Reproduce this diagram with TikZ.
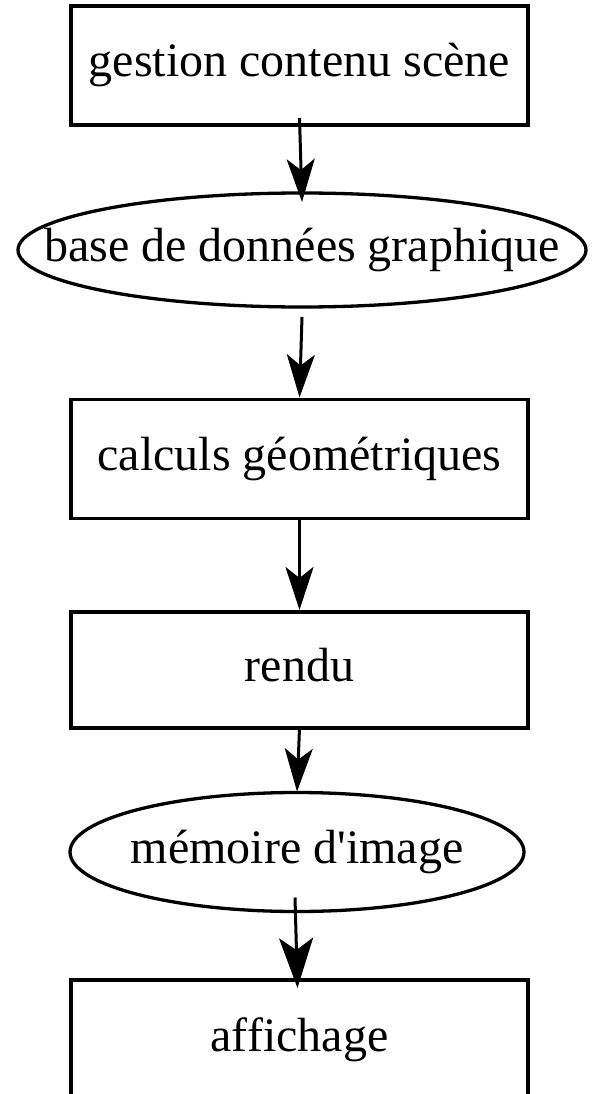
\documentclass[tikz,border=0pt]{standalone}
\usepackage{fontspec}
\setmainfont{Liberation Serif}[Ligatures=TeXOff]
\usetikzlibrary{shapes.geometric,arrows.meta}
\begin{document}
\begin{tikzpicture}[x=1pt,y=-1pt,
  txt/.style={font=\fontsize{48}{48}\selectfont, text height=33pt, text depth=10pt, inner sep=0pt},
  boxnode/.style={draw, line width=3.3pt, minimum width=457pt, minimum height=119pt,
    inner sep=0pt, outer sep=0pt, txt},
  ellnode/.style={draw, ellipse, line width=3.3pt, inner sep=0pt, outer sep=0pt},
  flow/.style={line width=3pt, -{Stealth[length=43pt,width=28pt,inset=11pt]}},
  bigflow/.style={line width=3pt, -{Stealth[length=50pt,width=34pt,inset=12pt]}}]
\useasboundingbox (0,0) rectangle (592,1094);
\node[boxnode] (b1) at (299.5,65.5) {gestion contenu scène};
\node[ellnode, minimum width=568pt, minimum height=114pt] (e1) at (302,250) {};
\node[txt] (t1) at (e1.center) {base de données graphique};
\node[boxnode] (b2) at (299.5,459) {calculs géométriques};
\node[boxnode, minimum height=116pt] (b3) at (299.5,670) {rendu};
\node[ellnode, minimum width=454pt, minimum height=119pt] (e2) at (297,852) {};
\node[txt] (t2) at (e2.center) {mémoire d'image};
\node[boxnode] (b4) at (299.5,1039.5) {affichage};
\draw[flow] ([yshift=7pt]b1.south) -- ([yshift=-9pt]e1.north);
\draw[flow] ([yshift=-10pt]e1.south) -- ([yshift=2pt]b2.north);
\draw[flow] (b2.south) -- ([yshift=2pt]b3.north);
\draw[flow] (b3.south) -- ([yshift=1pt]e2.north);
\draw[bigflow] ([xshift=-2pt,yshift=14pt]e2.south) -- ([xshift=-2pt,yshift=-8pt]b4.north);
\end{tikzpicture}
\end{document}
